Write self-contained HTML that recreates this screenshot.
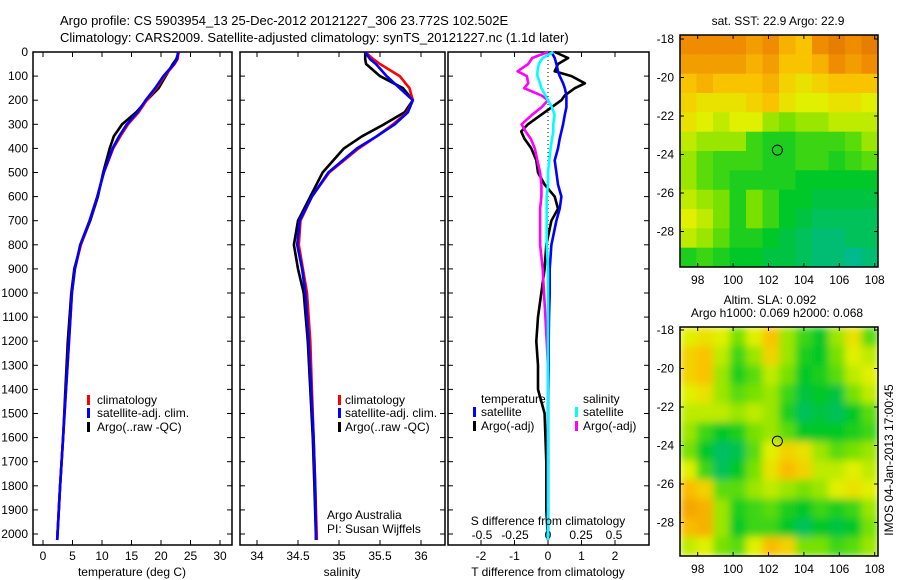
<!DOCTYPE html>
<html><head><meta charset="utf-8"><style>
html,body{margin:0;padding:0;background:#fff}
svg{display:block;font-family:"Liberation Sans",sans-serif;font-size:12px}
</style></head><body>
<svg id="s" width="900" height="580" viewBox="0 0 900 580">
<text x="60" y="25" font-size="13">Argo profile: CS 5903954_13 25-Dec-2012 20121227_306 23.772S 102.502E</text>
<text x="60" y="42" font-size="13">Climatology: CARS2009. Satellite-adjusted climatology: synTS_20121227.nc (1.1d later)</text>
</svg>
<script>
// ---- data ----
const depthT=[0,30,50,100,150,200,250,300,350,400,500,600,700,800,900,1000,1200,1400,1600,1800,2025];
const tempClim=[23.0,22.8,22.3,20.6,19.2,17.6,16.2,14.4,13.1,11.9,10.3,9.2,7.9,6.4,5.4,4.9,4.4,3.9,3.4,2.9,2.4];
const tempSat=[22.9,22.7,22.2,20.4,19.0,17.4,16.0,14.2,12.9,11.8,10.3,9.2,7.9,6.3,5.4,4.9,4.4,3.9,3.4,2.9,2.4];
const tempArgo=[23.0,22.6,22.0,20.8,19.6,17.6,15.8,13.4,12.0,11.3,10.2,9.3,8.0,6.4,5.3,4.8,4.2,3.8,3.4,2.9,2.4];
const salClim=[35.32,35.42,35.50,35.74,35.86,35.90,35.83,35.66,35.46,35.24,34.88,34.67,34.53,34.51,34.56,34.61,34.65,34.67,34.69,34.71,34.73];
const salSat=[35.32,35.38,35.45,35.58,35.74,35.90,35.84,35.68,35.46,35.22,34.87,34.67,34.52,34.49,34.55,34.59,34.63,34.66,34.69,34.71,34.72];
const salArgo=[35.32,35.32,35.33,35.50,35.78,35.90,35.80,35.55,35.28,35.06,34.80,34.65,34.50,34.45,34.50,34.57,34.62,34.65,34.68,34.70,34.72];
const dDepth=[0,25,50,80,100,130,150,180,200,230,260,300,330,360,400,450,500,550,600,650,700,800,900,1000,1100,1200,1300,1400,1500,1700,1900,2025];
const dTsat=[0.1,0.2,0.25,0.3,0.35,0.45,0.5,0.55,0.55,0.55,0.5,0.45,0.4,0.35,0.3,0.2,0.25,0.3,0.4,0.35,0.25,0.1,0.05,0.05,0.03,0.02,0.02,0.01,0.0,0.0,0.0,0.0];
const dTargo=[0.2,0.6,0.3,0.2,0.7,1.1,0.8,0.5,0.4,0.1,-0.2,-0.6,-0.8,-0.7,-0.5,-0.35,-0.3,-0.1,0.2,0.3,0.1,-0.05,-0.1,-0.2,-0.3,-0.35,-0.3,-0.3,-0.1,-0.05,-0.05,0.0];
const dSsat=[0.04,-0.04,-0.07,-0.08,-0.08,-0.06,-0.05,-0.02,0.0,0.03,0.05,0.04,0.04,0.03,0.02,0.01,0.0,0.0,-0.01,-0.01,-0.01,-0.01,0.0,0.0,0.0,0.0,0.0,0.0,0.0,0.0,0.0,0.0];
const dSargo=[0.0,-0.12,-0.15,-0.23,-0.16,-0.15,-0.18,-0.05,0.0,-0.05,-0.12,-0.2,-0.17,-0.13,-0.1,-0.08,-0.06,-0.05,-0.05,-0.06,-0.06,-0.06,-0.04,-0.03,-0.02,-0.01,0.0,0.0,0.0,0.0,0.0,0.0];
const depthTicks=[0,100,200,300,400,500,600,700,800,900,1000,1100,1200,1300,1400,1500,1600,1700,1800,1900,2000];
const tTicks=[0,5,10,15,20,25,30];
const sTicks=[34,34.5,35,35.5,36];
const sTickLabels=["34","34.5","35","35.5","36"];
const dTTicks=[-2,-1,0,1,2];
const dSTicks=[-0.5,-0.25,0,0.25,0.5];
const dSTickLabels=["-0.5","-0.25","0","0.25","0.5"];
const lonTicks=[98,100,102,104,106,108];
const latTicks=[-18,-20,-22,-24,-26,-28];
const argoLon=102.502, argoLat=-23.772;
const sstGrid=[
[0.85,0.85,0.85,0.85,0.8,0.85,0.75,0.7,0.85,0.9,0.85,0.9],
[0.8,0.8,0.8,0.8,0.75,0.8,0.7,0.7,0.75,0.85,0.8,0.85],
[0.7,0.75,0.7,0.7,0.7,0.75,0.65,0.6,0.65,0.7,0.7,0.7],
[0.65,0.6,0.6,0.6,0.65,0.7,0.6,0.55,0.55,0.6,0.6,0.55],
[0.6,0.55,0.5,0.55,0.55,0.45,0.4,0.45,0.45,0.5,0.5,0.5],
[0.5,0.45,0.45,0.45,0.3,0.25,0.25,0.3,0.3,0.3,0.35,0.45],
[0.45,0.35,0.3,0.3,0.3,0.25,0.25,0.3,0.3,0.25,0.3,0.35],
[0.45,0.35,0.3,0.25,0.25,0.25,0.25,0.2,0.2,0.2,0.2,0.2],
[0.5,0.45,0.4,0.25,0.4,0.3,0.2,0.2,0.15,0.15,0.15,0.15],
[0.55,0.5,0.4,0.25,0.4,0.3,0.2,0.15,0.1,0.1,0.1,0.1],
[0.5,0.45,0.35,0.25,0.25,0.2,0.15,0.1,0.05,0.05,0.1,0.1],
[0.25,0.3,0.25,0.2,0.2,0.15,0.15,0.1,0.05,0.05,0.0,0.05]];
const slaGrid=[
[0.55,0.6,0.55,0.4,0.55,0.7,0.45,0.3,0.2,0.45,0.6,0.35],
[0.65,0.7,0.5,0.3,0.45,0.65,0.45,0.25,0.2,0.4,0.55,0.5],
[0.65,0.7,0.45,0.25,0.35,0.5,0.4,0.2,0.25,0.35,0.5,0.55],
[0.55,0.6,0.45,0.35,0.4,0.45,0.3,0.15,0.2,0.15,0.4,0.5],
[0.5,0.5,0.5,0.45,0.5,0.45,0.25,0.1,0.15,0.1,0.2,0.35],
[0.45,0.3,0.2,0.25,0.4,0.45,0.35,0.2,0.2,0.2,0.25,0.3],
[0.4,0.2,0.08,0.12,0.35,0.55,0.65,0.6,0.45,0.35,0.4,0.45],
[0.55,0.3,0.1,0.2,0.4,0.6,0.72,0.65,0.5,0.5,0.55,0.5],
[0.72,0.65,0.35,0.35,0.45,0.5,0.45,0.4,0.45,0.55,0.6,0.55],
[0.78,0.75,0.45,0.25,0.3,0.35,0.25,0.2,0.3,0.25,0.3,0.45],
[0.72,0.75,0.45,0.2,0.3,0.3,0.2,0.1,0.2,0.15,0.2,0.4],
[0.5,0.55,0.4,0.35,0.55,0.72,0.65,0.4,0.4,0.3,0.35,0.45]];

// ---- drawing ----
const NS="http://www.w3.org/2000/svg", S=document.getElementById('s');
function el(tag,at,txt){const e=document.createElementNS(NS,tag);for(const k in at)e.setAttribute(k,at[k]);if(txt!==undefined)e.textContent=txt;S.appendChild(e);return e;}
const top0=52, bot=545, yD=d=>top0+d*0.2410;
function frame(x0,x1,y0,y1,name){
  const r=el('rect',{x:x0,y:y0,width:x1-x0,height:y1-y0,fill:'none',stroke:'#000','stroke-width':1.5});
  
  
}
function line(xs,ys,xf,color,name,w){
  let d='';for(let i=0;i<xs.length;i++)d+=(i?'L':'M')+xf(xs[i]).toFixed(1)+','+yD(ys[i]).toFixed(1);
  const p=el('path',{d:d,fill:'none',stroke:color,'stroke-width':w||2.6,'stroke-linejoin':'round'});
  
  
}
function xTicks(vals,labels,xf,ly,name,tickTop){
  vals.forEach((v,i)=>{const x=xf(v);
    el('line',{x1:x,x2:x,y1:bot,y2:bot-5,stroke:'#000'});
    if(tickTop)el('line',{x1:x,x2:x,y1:top0,y2:top0+5,stroke:'#000'});
    const t=el('text',{x:x,y:ly,'text-anchor':'middle'},labels[i]);
    
    
  });
}
function depthTk(x0,x1){depthTicks.forEach(d=>{const y=yD(d);
  el('line',{x1:x0,x2:x0+5,y1:y,y2:y,stroke:'#000'});el('line',{x1:x1,x2:x1-5,y1:y,y2:y,stroke:'#000'});});}
function txt(x,y,s,name,anchor){const t=el('text',{x:x,y:y,'text-anchor':anchor||'start'},s);
  
  return t;}
function legMark(x,y,c,name){const r=el('rect',{x:x,y:y-9,width:3,height:10,fill:c});
  
  }

// Panel 1 temperature
const xT=v=>43+v*5.9;
frame(33,232,top0,bot,'temperature-panel-frame');
depthTk(33,232);
depthTicks.forEach(d=>{const t=el('text',{x:28,y:yD(d)+4,'text-anchor':'end'},String(d));
  
  });
xTicks(tTicks,tTicks.map(String),xT,560,'temperature',true);
line(tempArgo,depthT,xT,'#000','temperature-argo-line');
line(tempClim,depthT,xT,'#f00','temperature-climatology-line');
line(tempSat,depthT,xT,'#00f','temperature-satellite-line');
txt(132,576,'temperature (deg C)','temperature-axis-title','middle');
legMark(87,404,'#f00','legend-climatology-marker');txt(97,404,'climatology','legend-climatology');
legMark(87,417,'#00f','legend-satellite-marker');txt(97,417,'satellite-adj. clim.','legend-satellite');
legMark(87,431,'#000','legend-argo-marker');txt(97,431,'Argo(..raw -QC)','legend-argo');

// Panel 2 salinity
const xS=v=>257+(v-34)*82;
frame(240,445,top0,bot,'salinity-panel-frame');
depthTk(240,445);
xTicks(sTicks,sTickLabels,xS,560,'salinity',true);
line(salArgo,depthT,xS,'#000','salinity-argo-line');
line(salClim,depthT,xS,'#f00','salinity-climatology-line');
line(salSat,depthT,xS,'#00f','salinity-satellite-line');
txt(342,576,'salinity','salinity-axis-title','middle');
legMark(338,404,'#f00','legend2-climatology-marker');txt(345,404,'climatology','legend2-climatology');
legMark(338,417,'#00f','legend2-satellite-marker');txt(345,417,'satellite-adj. clim.','legend2-satellite');
legMark(338,431,'#000','legend2-argo-marker');txt(345,431,'Argo(..raw -QC)','legend2-argo');
txt(327,519,'Argo Australia','credit-argo-australia');
txt(327,533,'PI: Susan Wijffels','credit-pi');

// Panel 3 differences
const xDT=v=>548+v*33.5, xDS=v=>548+v*132;
frame(448,649,top0,bot,'difference-panel-frame');
depthTk(448,649);
xTicks(dTTicks,dTTicks.map(String),xDT,560,'t-difference',true);
dSTicks.forEach((v,i)=>{const t=el('text',{x:xDS(v),y:539,'text-anchor':'middle'},dSTickLabels[i]);
  
  });
el('line',{x1:548,x2:548,y1:top0,y2:bot,stroke:'#000','stroke-dasharray':'1,3'});
line(dTargo,dDepth,xDT,'#000','t-diff-argo-line');
line(dSargo,dDepth,xDS,'#f0f','s-diff-argo-line');
line(dTsat,dDepth,xDT,'#00f','t-diff-satellite-line');
line(dSsat,dDepth,xDS,'#0ff','s-diff-satellite-line');
txt(548,525,'S difference from climatology','s-difference-axis-title','middle');
txt(548,576,'T difference from climatology','t-difference-axis-title','middle');
txt(481,403,'temperature','legend3-temperature-header');
txt(583,403,'salinity','legend3-salinity-header');
legMark(473,416,'#00f','legend3-t-satellite-marker');txt(481,416,'satellite','legend3-t-satellite');
legMark(473,430,'#000','legend3-t-argo-marker');txt(481,430,'Argo(-adj)','legend3-t-argo');
legMark(575,416,'#0ff','legend3-s-satellite-marker');txt(583,416,'satellite','legend3-s-satellite');
legMark(575,430,'#f0f','legend3-s-argo-marker');txt(583,430,'Argo(-adj)','legend3-s-argo');

// Maps
const stops=[[0,[0,185,140]],[0.2,[0,200,40]],[0.4,[120,225,0]],[0.55,[225,240,0]],[0.7,[250,195,0]],[0.85,[240,140,0]],[1,[210,100,0]]];
function cmap(v){for(let i=1;i<stops.length;i++){if(v<=stops[i][0]){const a=stops[i-1],b=stops[i],f=(v-a[0])/(b[0]-a[0]);
  const c=a[1].map((x,k)=>Math.round(x+(b[1][k]-x)*f));return 'rgb('+c.join(',')+')';}}return 'rgb(210,100,0)';}
const defs=el('defs',{});
defs.innerHTML='<filter id="bl" x="-5%" y="-5%" width="110%" height="110%"><feGaussianBlur stdDeviation="4" edgeMode="duplicate"/></filter><clipPath id="c1"><rect x="680" y="35" width="198" height="232"/></clipPath><clipPath id="c2"><rect x="680" y="327" width="198" height="229"/></clipPath>';
function map(grid,y0,y1,lat18,clip,name,blur){
  const x0=680,x1=878,lonX=v=>x0+(v-97)*17.7,latY=v=>lat18+(-18-v)*19.25;
  const g=el('g',{'clip-path':'url(#'+clip+')'});
  
  
  const inner=document.createElementNS(NS,'g');if(blur)inner.setAttribute('filter','url(#bl)');g.appendChild(inner);
  const R=grid.length,C=grid[0].length,cw=(x1-x0)/C,ch=(y1-y0)/R;
  grid.forEach((row,r)=>row.forEach((v,c)=>{const q=document.createElementNS(NS,'rect');
    q.setAttribute('x',(x0+c*cw).toFixed(1));q.setAttribute('y',(y0+r*ch).toFixed(1));
    q.setAttribute('width',(cw+0.6).toFixed(1));q.setAttribute('height',(ch+0.6).toFixed(1));q.setAttribute('fill',cmap(v));
    
    
    inner.appendChild(q);}));
  frame(x0,x1,y0,y1,name+'-frame');
  lonTicks.forEach(v=>{const x=lonX(v);el('line',{x1:x,x2:x,y1:y1,y2:y1-4,stroke:'#000'});el('line',{x1:x,x2:x,y1:y0,y2:y0+4,stroke:'#000'});
    const t=el('text',{x:x,y:y1+17,'text-anchor':'middle'},String(v));
    
    });
  latTicks.forEach(v=>{const y=latY(v);el('line',{x1:x0,x2:x0+4,y1:y,y2:y,stroke:'#000'});el('line',{x1:x1,x2:x1-4,y1:y,y2:y,stroke:'#000'});
    const t=el('text',{x:x0-6,y:y+4,'text-anchor':'end'},String(v));
    
    });
  const c=el('circle',{cx:lonX(argoLon),cy:latY(argoLat),r:5,fill:'none',stroke:'#000','stroke-width':1});
  
  
}
map(sstGrid,35,267,39,'c1','sst-map',false);
map(slaGrid,327,556,330,'c2','sla-map',true);
txt(778,25,'sat. SST: 22.9 Argo: 22.9','sst-map-title','middle');
txt(770,304,'Altim. SLA: 0.092','sla-map-title','middle');
txt(777,317,'Argo h1000: 0.069 h2000: 0.068','sla-map-subtitle','middle');
const im=txt(0,0,'IMOS 04-Jan-2013 17:00:45','imos-timestamp','middle');
im.setAttribute('transform','translate(893,460) rotate(-90)');
</script>
</body></html>
